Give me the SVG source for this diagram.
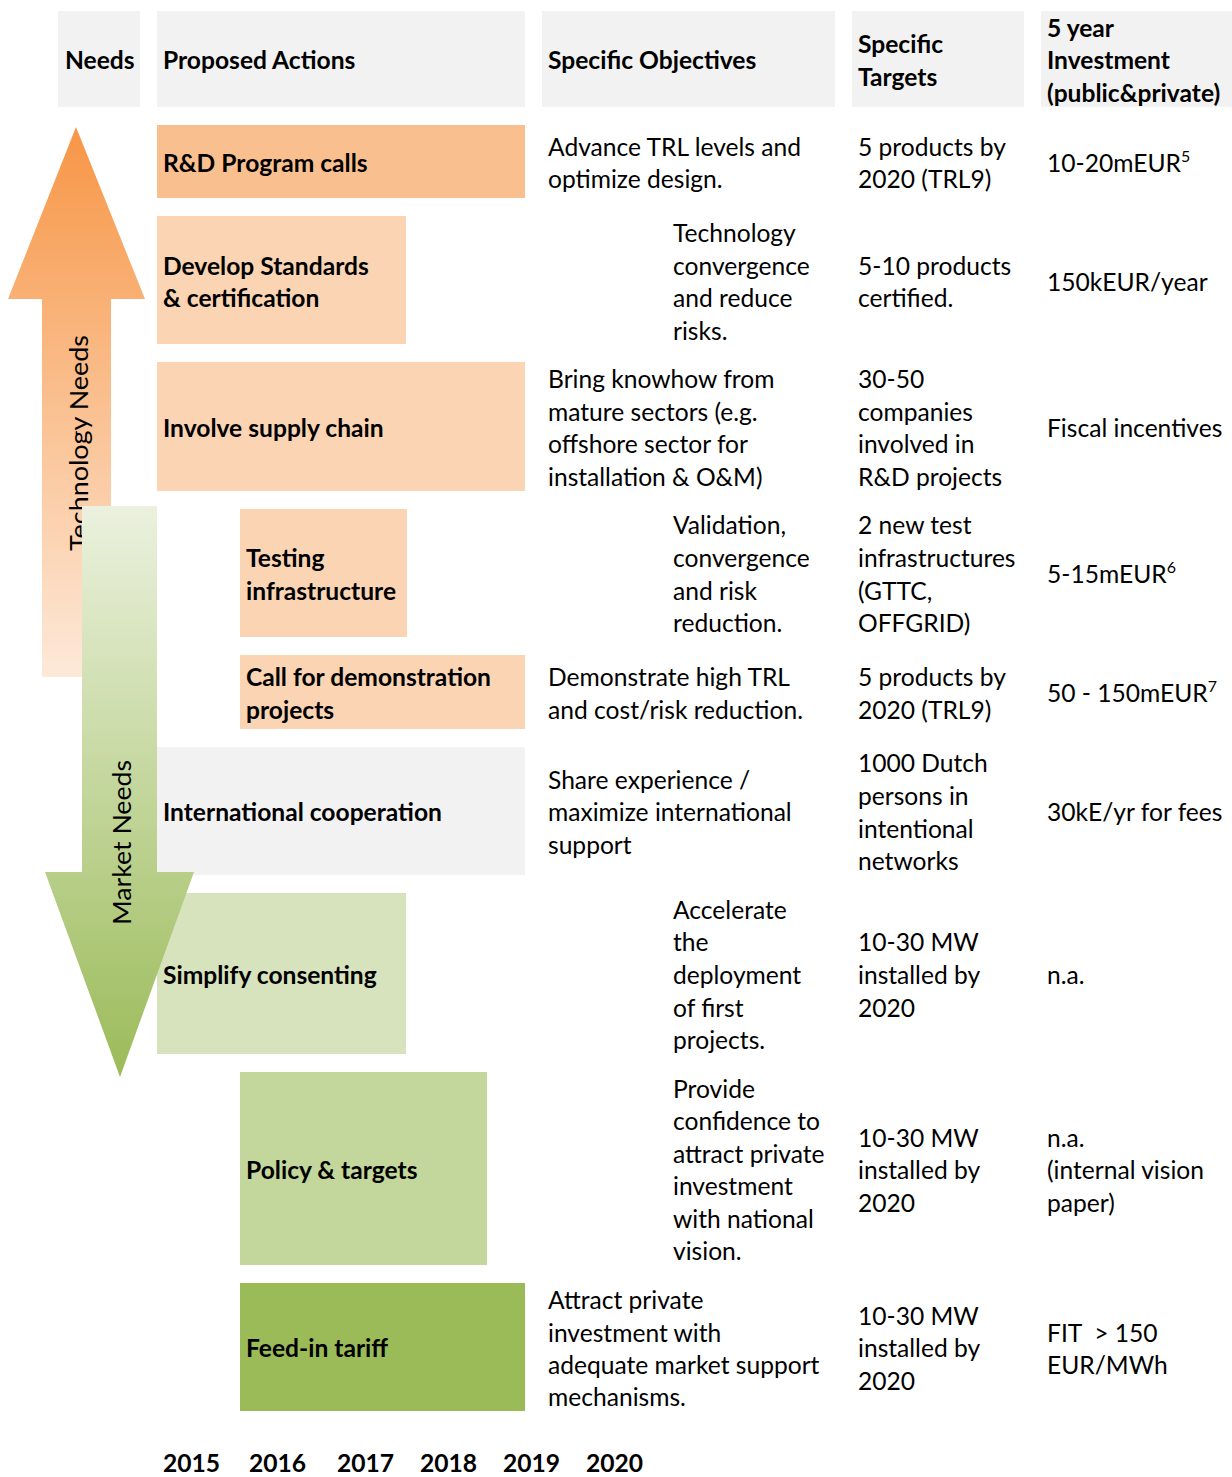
<svg xmlns="http://www.w3.org/2000/svg" width="1232" height="1477" viewBox="0 0 1232 1477">
<defs>
<style>
text{font-family:Lato,"Liberation Sans",sans-serif;font-size:24.6px;fill:#000}
.b{font-weight:bold}
.hd{fill:#f2f2f2}
.o1{fill:#fabf8f}
.o2{fill:#fbd4b4}
.gr{fill:#f2f2f2}
.g1{fill:#d7e3bc}
.g2{fill:#c3d69b}
.g3{fill:#9bbb59}
.sup{font-size:16px}
.pre{white-space:pre}
</style>
<linearGradient id="techGrad" x1="0" y1="127" x2="0" y2="677" gradientUnits="userSpaceOnUse">
<stop offset="0" stop-color="#f79646"/>
<stop offset="1" stop-color="#fde9d9"/>
</linearGradient>
<linearGradient id="mktGrad" x1="0" y1="506" x2="0" y2="1077" gradientUnits="userSpaceOnUse">
<stop offset="0" stop-color="#ebf1de"/>
<stop offset="1" stop-color="#9bbb59"/>
</linearGradient>
</defs>
<rect width="1232" height="1477" fill="#fff"/>

<g id="header">
<g id="h-needs"><rect class="hd" x="58" y="11" width="82" height="96"/><text class="b" x="65" y="69">Needs</text></g>
<g id="h-actions"><rect class="hd" x="157" y="11" width="368" height="96"/><text class="b" x="163" y="69">Proposed Actions</text></g>
<g id="h-objectives"><rect class="hd" x="542" y="11" width="293" height="96"/><text class="b" x="548" y="69">Specific Objectives</text></g>
<g id="h-targets"><rect class="hd" x="852" y="11" width="172" height="96"/><text class="b" x="858" y="53">Specific</text><text class="b" x="858" y="86">Targets</text></g>
<g id="h-investment"><rect class="hd" x="1041" y="11" width="191" height="96"/><text class="b" x="1047" y="37">5 year</text><text class="b" x="1047" y="69">Investment</text><text class="b" x="1047" y="102">(public&amp;private)</text></g>
</g>

<g id="row-rd">
<rect class="o1" x="157" y="125" width="368" height="73"/>
<text class="b" x="163" y="172">R&amp;D Program calls</text>
<text x="548" y="156">Advance TRL levels and</text>
<text x="548" y="188">optimize design.</text>
<text x="858" y="156">5 products by</text>
<text x="858" y="188">2020 (TRL9)</text>
<text x="1047" y="172">10-20mEUR<tspan class="sup" dy="-10">5</tspan></text>
</g>

<g id="row-standards">
<rect class="o2" x="157" y="216" width="249" height="128"/>
<text class="b" x="163" y="275">Develop Standards</text>
<text class="b" x="163" y="307">&amp; certification</text>
<text x="673" y="242">Technology</text>
<text x="673" y="275">convergence</text>
<text x="673" y="307">and reduce</text>
<text x="673" y="340">risks.</text>
<text x="858" y="275">5-10 products</text>
<text x="858" y="307">certified.</text>
<text x="1047" y="291">150kEUR/year</text>
</g>

<g id="row-supply">
<rect class="o2" x="157" y="362" width="368" height="129"/>
<text class="b" x="163" y="437">Involve supply chain</text>
<text x="548" y="388">Bring knowhow from</text>
<text x="548" y="421">mature sectors (e.g.</text>
<text x="548" y="453">offshore sector for</text>
<text x="548" y="486">installation &amp; O&amp;M)</text>
<text x="858" y="388">30-50</text>
<text x="858" y="421">companies</text>
<text x="858" y="453">involved in</text>
<text x="858" y="486">R&amp;D projects</text>
<text x="1047" y="437">Fiscal incentives</text>
</g>

<g id="row-testing">
<rect class="o2" x="240" y="509" width="167" height="128"/>
<text class="b" x="246" y="567">Testing</text>
<text class="b" x="246" y="600">infrastructure</text>
<text x="673" y="534">Validation,</text>
<text x="673" y="567">convergence</text>
<text x="673" y="600">and risk</text>
<text x="673" y="632">reduction.</text>
<text x="858" y="534">2 new test</text>
<text x="858" y="567">infrastructures</text>
<text x="858" y="600">(GTTC,</text>
<text x="858" y="632">OFFGRID)</text>
<text x="1047" y="583">5-15mEUR<tspan class="sup" dy="-10">6</tspan></text>
</g>

<g id="row-demo">
<rect class="o2" x="240" y="655" width="285" height="74"/>
<text class="b" x="246" y="686">Call for demonstration</text>
<text class="b" x="246" y="719">projects</text>
<text x="548" y="686">Demonstrate high TRL</text>
<text x="548" y="719">and cost/risk reduction.</text>
<text x="858" y="686">5 products by</text>
<text x="858" y="719">2020 (TRL9)</text>
<text x="1047" y="702">50 - 150mEUR<tspan class="sup" dy="-10">7</tspan></text>
</g>

<g id="row-international">
<rect class="gr" x="157" y="747" width="368" height="128"/>
<text class="b" x="163" y="821">International cooperation</text>
<text x="548" y="789">Share experience /</text>
<text x="548" y="821">maximize international</text>
<text x="548" y="854">support</text>
<text x="858" y="772">1000 Dutch</text>
<text x="858" y="805">persons in</text>
<text x="858" y="838">intentional</text>
<text x="858" y="870">networks</text>
<text x="1047" y="821">30kE/yr for fees</text>
</g>

<g id="row-consenting">
<rect class="g1" x="157" y="893" width="249" height="161"/>
<text class="b" x="163" y="984">Simplify consenting</text>
<text x="673" y="919">Accelerate</text>
<text x="673" y="951">the</text>
<text x="673" y="984">deployment</text>
<text x="673" y="1017">of first</text>
<text x="673" y="1049">projects.</text>
<text x="858" y="951">10-30 MW</text>
<text x="858" y="984">installed by</text>
<text x="858" y="1017">2020</text>
<text x="1047" y="984">n.a.</text>
</g>

<g id="row-policy">
<rect class="g2" x="240" y="1072" width="247" height="193"/>
<text class="b" x="246" y="1179">Policy &amp; targets</text>
<text x="673" y="1098">Provide</text>
<text x="673" y="1130">confidence to</text>
<text x="673" y="1163">attract private</text>
<text x="673" y="1195">investment</text>
<text x="673" y="1228">with national</text>
<text x="673" y="1260">vision.</text>
<text x="858" y="1147">10-30 MW</text>
<text x="858" y="1179">installed by</text>
<text x="858" y="1212">2020</text>
<text x="1047" y="1147">n.a.</text>
<text x="1047" y="1179">(internal vision</text>
<text x="1047" y="1212">paper)</text>
</g>

<g id="row-feedin">
<rect class="g3" x="240" y="1283" width="285" height="128"/>
<text class="b" x="246" y="1357">Feed-in tariff</text>
<text x="548" y="1309">Attract private</text>
<text x="548" y="1342">investment with</text>
<text x="548" y="1374">adequate market support</text>
<text x="548" y="1406">mechanisms.</text>
<text x="858" y="1325">10-30 MW</text>
<text x="858" y="1357">installed by</text>
<text x="858" y="1390">2020</text>
<text class="pre" x="1047" y="1342">FIT  &gt; 150</text>
<text x="1047" y="1374">EUR/MWh</text>
</g>

<g id="arrows">
<g id="technology-needs">
<polygon points="76,127 145,299 111,299 111,677 42,677 42,299 8,299" fill="url(#techGrad)"/>
<text x="0" y="0" font-size="27" textLength="216" lengthAdjust="spacingAndGlyphs" transform="translate(88,551) rotate(-90)">Technology Needs</text>
</g>
<g id="market-needs">
<polygon points="82,506 157,506 157,872 194,872 120,1077 45,872 82,872" fill="url(#mktGrad)"/>
<text x="0" y="0" font-size="28" textLength="165" lengthAdjust="spacingAndGlyphs" transform="translate(131,925) rotate(-90)">Market Needs</text>
</g>
</g>

<g id="years">
<text class="b" x="163" y="1472">2015</text>
<text class="b" x="249" y="1472">2016</text>
<text class="b" x="337" y="1472">2017</text>
<text class="b" x="420" y="1472">2018</text>
<text class="b" x="503" y="1472">2019</text>
<text class="b" x="586" y="1472">2020</text>
</g>
</svg>
